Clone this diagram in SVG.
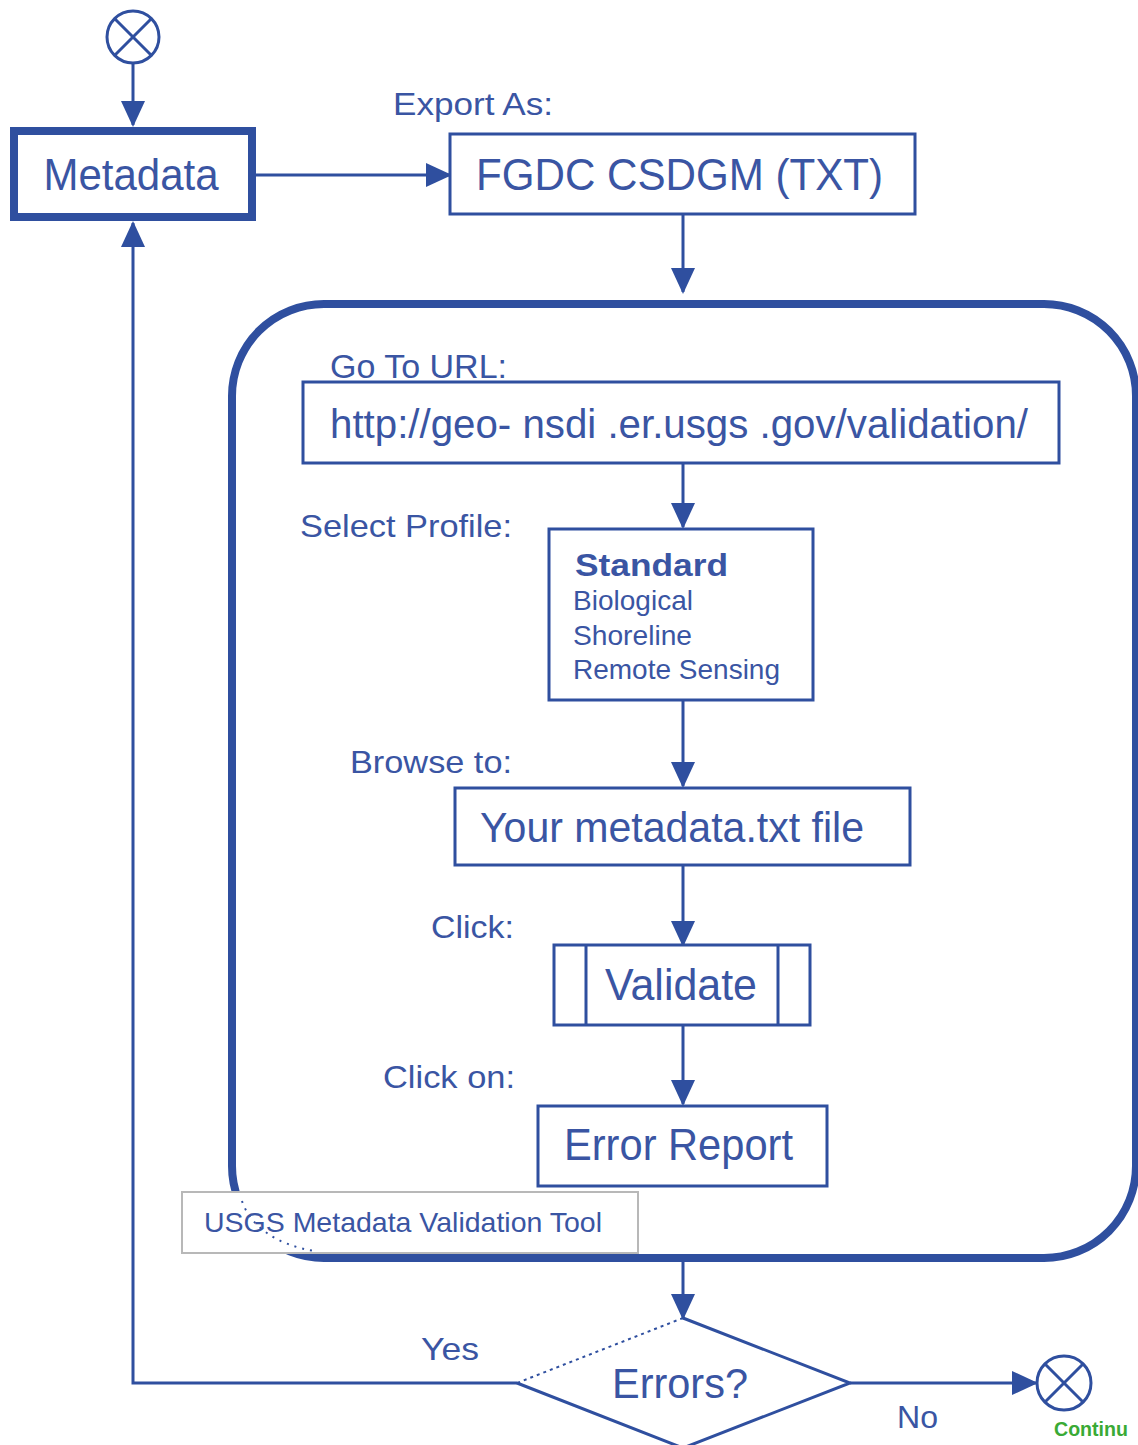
<svg xmlns="http://www.w3.org/2000/svg" width="1138" height="1445" viewBox="0 0 1138 1445">
<defs>
<marker id="arr" markerUnits="userSpaceOnUse" markerWidth="26" markerHeight="26" viewBox="0 0 26 26" refX="24" refY="13" orient="auto">
<path d="M0,1 L26,13 L0,25 Z" fill="#2f4f9f"/>
</marker>
<style>
.ln{fill:none;stroke:#2f4f9f;stroke-width:3}
.bx{fill:#fff;stroke:#2f4f9f;stroke-width:3}
.t{font-family:"Liberation Sans",Arial,sans-serif;fill:#3a55a3}
</style>
</defs>
<rect width="1138" height="1445" fill="#fff"/>

<g id="connectors">
<line class="ln" x1="133" y1="63" x2="133" y2="125" marker-end="url(#arr)"/>
<line class="ln" x1="256" y1="175" x2="450" y2="175" marker-end="url(#arr)"/>
<line class="ln" x1="683" y1="214" x2="683" y2="292" marker-end="url(#arr)"/>
<line class="ln" x1="683" y1="463" x2="683" y2="527" marker-end="url(#arr)"/>
<line class="ln" x1="683" y1="700" x2="683" y2="786" marker-end="url(#arr)"/>
<line class="ln" x1="683" y1="865" x2="683" y2="945" marker-end="url(#arr)"/>
<line class="ln" x1="683" y1="1025" x2="683" y2="1104" marker-end="url(#arr)"/>
<line class="ln" x1="683" y1="1262" x2="683" y2="1318" marker-end="url(#arr)"/>
<polyline class="ln" points="517,1383 133,1383 133,223" marker-end="url(#arr)"/>
<line class="ln" x1="850" y1="1383" x2="1036" y2="1383" marker-end="url(#arr)"/>
</g>

<g id="start">
<circle cx="133" cy="37" r="26" class="ln"/>
<line class="ln" x1="115" y1="19" x2="151" y2="55" stroke-width="2"/>
<line class="ln" x1="151" y1="19" x2="115" y2="55" stroke-width="2"/>
</g>

<g id="metadata">
<rect x="14" y="131" width="238" height="86" fill="#fff" stroke="#2f4f9f" stroke-width="8"/>
<text class="t" x="131" y="190" font-size="44" text-anchor="middle" textLength="175" lengthAdjust="spacingAndGlyphs">Metadata</text>
</g>

<g id="export">
<text class="t" x="393" y="115" font-size="32" textLength="160" lengthAdjust="spacingAndGlyphs">Export As:</text>
<rect class="bx" x="450" y="134" width="465" height="80"/>
<text class="t" x="476" y="190" font-size="44" textLength="407" lengthAdjust="spacingAndGlyphs">FGDC CSDGM (TXT)</text>
</g>

<g id="validationTool">
<rect x="232" y="304" width="904" height="954" rx="92" ry="92" fill="none" stroke="#2f4f9f" stroke-width="8"/>
</g>

<g id="url">
<text class="t" x="330" y="378" font-size="33" textLength="177" lengthAdjust="spacingAndGlyphs">Go To URL:</text>
<rect class="bx" x="303" y="382" width="756" height="81"/>
<text class="t" x="330" y="438" font-size="40" textLength="698" lengthAdjust="spacingAndGlyphs">http://geo- nsdi .er.usgs .gov/validation/</text>
</g>

<g id="profile">
<text class="t" x="300" y="537" font-size="32" textLength="212" lengthAdjust="spacingAndGlyphs">Select Profile:</text>
<rect class="bx" x="549" y="529" width="264" height="171"/>
<text class="t" x="575" y="576" font-size="32" font-weight="bold" textLength="153" lengthAdjust="spacingAndGlyphs">Standard</text>
<text class="t" x="573" y="610" font-size="28" textLength="120" lengthAdjust="spacingAndGlyphs">Biological</text>
<text class="t" x="573" y="645" font-size="28" textLength="119" lengthAdjust="spacingAndGlyphs">Shoreline</text>
<text class="t" x="573" y="679" font-size="28" textLength="207" lengthAdjust="spacingAndGlyphs">Remote Sensing</text>
</g>

<g id="browse">
<text class="t" x="350" y="773" font-size="32" textLength="162" lengthAdjust="spacingAndGlyphs">Browse to:</text>
<rect class="bx" x="455" y="788" width="455" height="77"/>
<text class="t" x="480" y="842" font-size="42" textLength="384" lengthAdjust="spacingAndGlyphs">Your metadata.txt file</text>
</g>

<g id="validate">
<text class="t" x="431" y="938" font-size="32" textLength="83" lengthAdjust="spacingAndGlyphs">Click:</text>
<rect class="bx" x="554" y="945" width="256" height="80"/>
<line class="ln" x1="586" y1="945" x2="586" y2="1025"/>
<line class="ln" x1="778" y1="945" x2="778" y2="1025"/>
<text class="t" x="605" y="1000" font-size="44" textLength="152" lengthAdjust="spacingAndGlyphs">Validate</text>
</g>

<g id="errorReport">
<text class="t" x="383" y="1088" font-size="32" textLength="132" lengthAdjust="spacingAndGlyphs">Click on:</text>
<rect class="bx" x="538" y="1106" width="289" height="80"/>
<text class="t" x="564" y="1160" font-size="44" textLength="229" lengthAdjust="spacingAndGlyphs">Error Report</text>
</g>

<g id="label">
<rect x="182" y="1192" width="456" height="61" fill="#fff" stroke="#b8b8b8" stroke-width="2"/>
<path d="M242,1201 C250,1225 275,1245 315,1251" fill="none" stroke="#2f4f9f" stroke-width="2" stroke-dasharray="2,6"/>
<text class="t" x="204" y="1232" font-size="28" textLength="398" lengthAdjust="spacingAndGlyphs">USGS Metadata Validation Tool</text>
</g>

<g id="decision">
<polyline points="517,1383 683,1448 850,1383 683,1318" fill="none" stroke="#2f4f9f" stroke-width="3"/>
<line x1="683" y1="1318" x2="517" y2="1383" stroke="#2f4f9f" stroke-width="2" stroke-dasharray="3,4"/>
<text class="t" x="612" y="1398" font-size="42" textLength="136" lengthAdjust="spacingAndGlyphs">Errors?</text>
<text class="t" x="421" y="1360" font-size="32" textLength="58" lengthAdjust="spacingAndGlyphs">Yes</text>
<text class="t" x="897" y="1428" font-size="32" textLength="41" lengthAdjust="spacingAndGlyphs">No</text>
</g>

<g id="end">
<circle cx="1064" cy="1383" r="27" class="ln" stroke-width="2.5"/>
<line class="ln" x1="1045" y1="1364" x2="1083" y2="1402" stroke-width="2"/>
<line class="ln" x1="1083" y1="1364" x2="1045" y2="1402" stroke-width="2"/>
<text x="1054" y="1436" font-family="'Liberation Sans',Arial,sans-serif" font-size="21" font-weight="bold" fill="#3aaa35" textLength="74" lengthAdjust="spacingAndGlyphs">Continu</text>
</g>
</svg>
